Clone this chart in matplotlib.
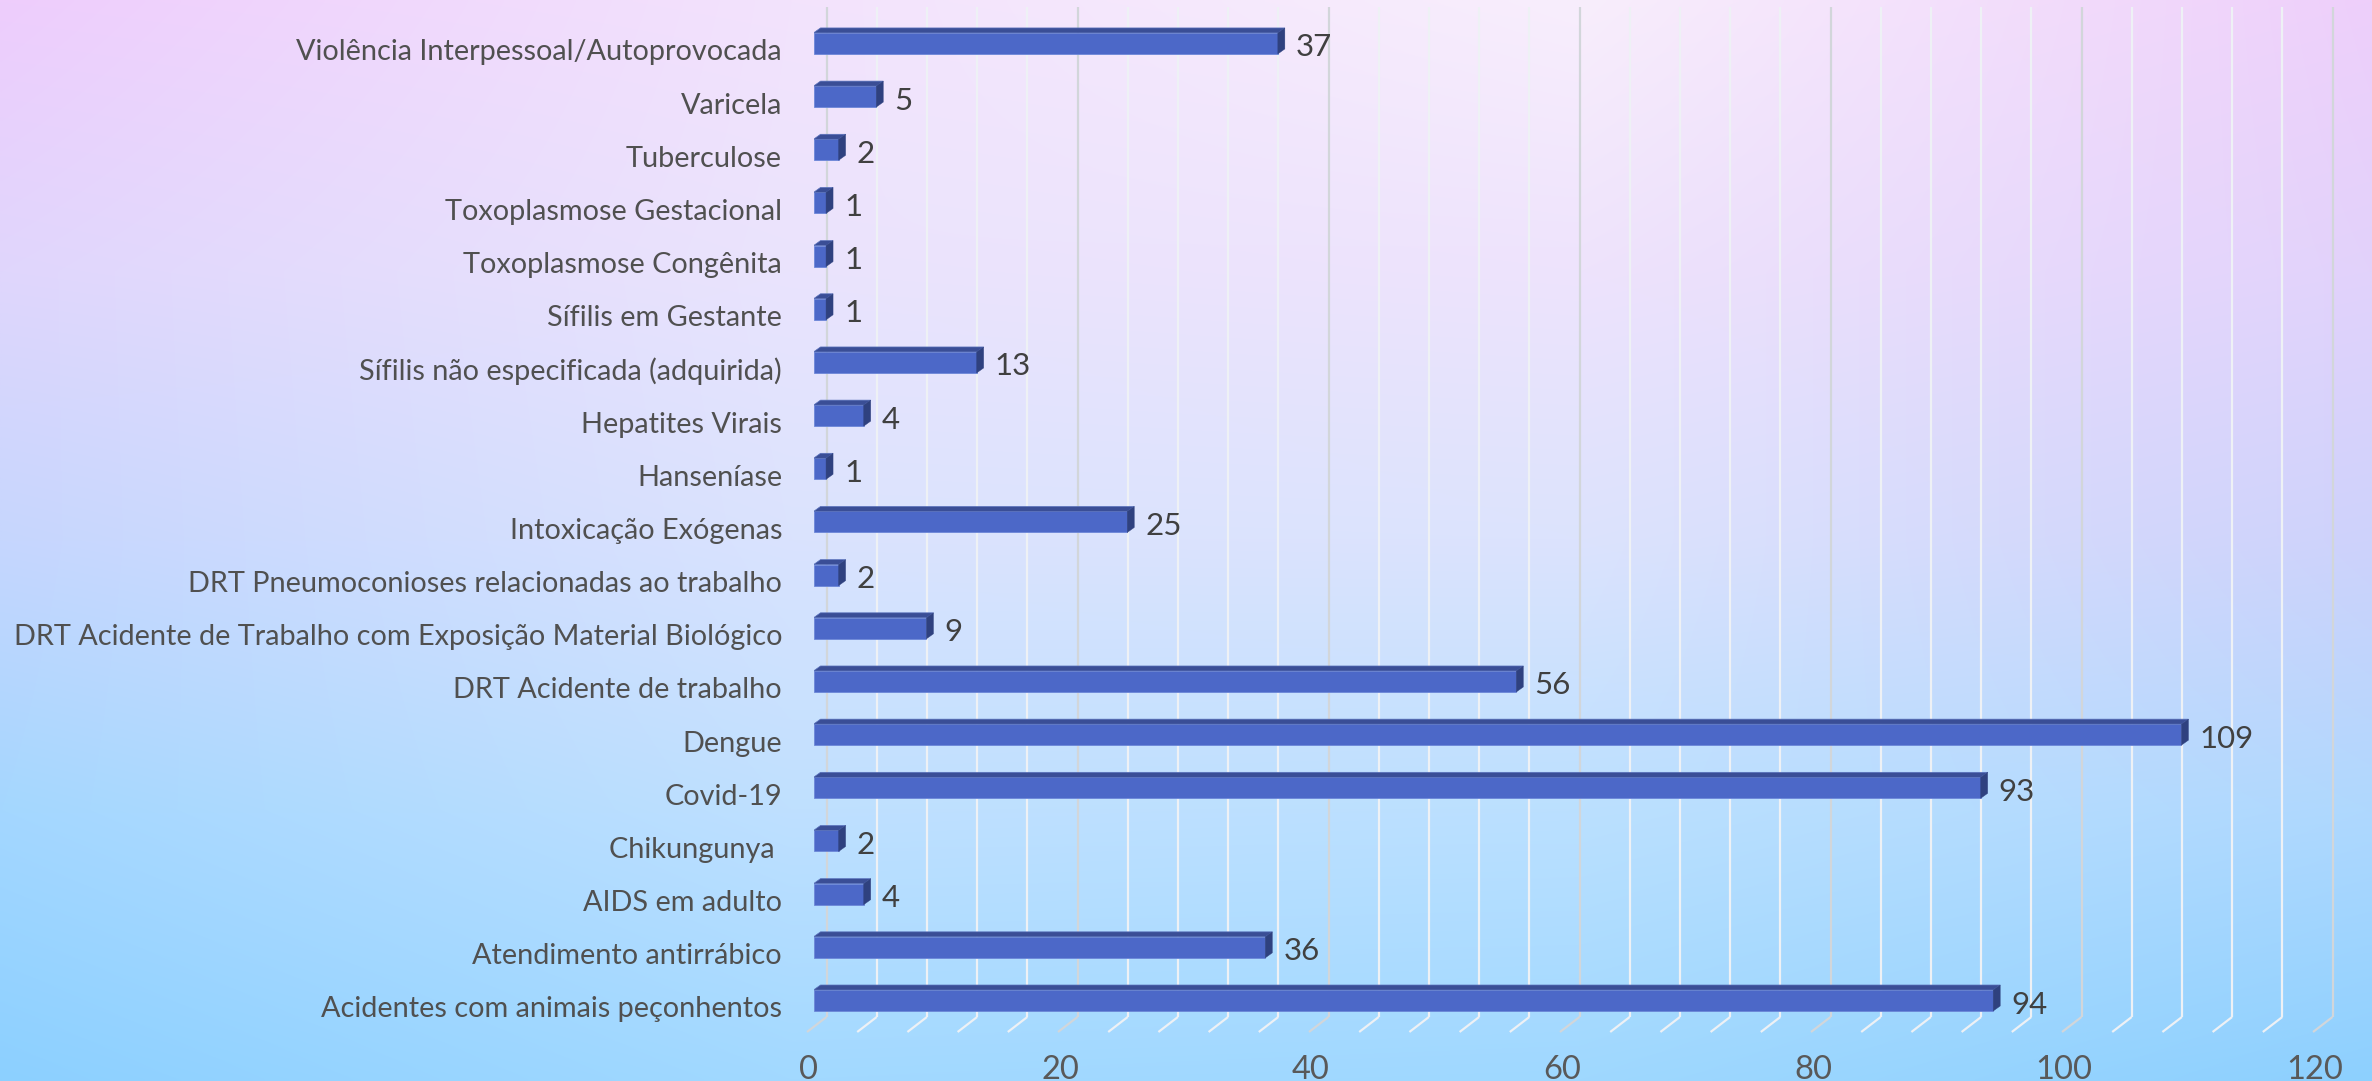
import numpy as np
import matplotlib
matplotlib.use("Agg")
import matplotlib.pyplot as plt
from matplotlib.patches import Polygon
from matplotlib.transforms import ScaledTranslation

categories = ["Violência Interpessoal/Autoprovocada", "Varicela", "Tuberculose",
              "Toxoplasmose Gestacional", "Toxoplasmose Congênita", "Sífilis em Gestante",
              "Sífilis não especificada (adquirida)", "Hepatites Virais", "Hanseníase",
              "Intoxicação Exógenas", "DRT Pneumoconioses relacionadas ao trabalho",
              "DRT Acidente de Trabalho com Exposição Material Biológico",
              "DRT Acidente de trabalho", "Dengue", "Covid-19", "Chikungunya ",
              "AIDS em adulto", "Atendimento antirrábico", "Acidentes com animais peçonhentos"]
values = [37, 5, 2, 1, 1, 1, 13, 4, 1, 25, 2, 9, 56, 109, 93, 2, 4, 36, 94]
x_major = [0, 20, 40, 60, 80, 100, 120]

W, H = 2372, 1081
DPI = 100
PX = 72 / DPI
plt.rcParams["font.family"] = ["Lato", "DejaVu Sans"]
fig = plt.figure(figsize=(W / DPI, H / DPI), dpi=DPI)

# background gradient, from colours sampled on a coarse grid
bg_hex = [["EECDFC", "F3E3FC", "F8EEFC", "EECFFA"],
          ["E0D6FC", "EAE4FD", "EEE3FC", "E2D2FB"],
          ["C6D6FE", "DAE3FE", "DCE3FD", "CED2FB"],
          ["A4D7FF", "BFE0FF", "BBE0FF", "AFD8FE"],
          ["8CD0FF", "A2D9FF", "9FD8FF", "8DD0FE"]]
grid = np.array([[[int(h[i:i + 2], 16) / 255 for i in (0, 2, 4)] for h in row] for row in bg_hex])
gx_pos = np.linspace(0, 1, grid.shape[1])
gy_pos = np.linspace(0, 1, grid.shape[0])
xs, ys = np.linspace(0, 1, 600), np.linspace(0, 1, 300)
rows = np.stack([[np.interp(xs, gx_pos, grid[r, :, c]) for c in range(3)] for r in range(grid.shape[0])])
img = np.stack([[np.interp(ys, gy_pos, rows[:, c, i]) for i in range(xs.size)] for c in range(3)])
img = img.transpose(2, 1, 0)
bg = fig.add_axes([0, 0, 1, 1], zorder=0)
bg.axis("off")
bg.imshow(img, aspect="auto", extent=(0, 1, 1, 0), interpolation="bilinear")

# plot axes: front plane of the bars
L, PER = 813.5, 12.55
TOP, BOT = 7.0, 1032.0
Y0, DY = 1000.5, 53.17          # first category centre (bottom), spacing in px
ax = fig.add_axes([L / W, 1 - BOT / H, 120 * PER / W, (BOT - TOP) / H], zorder=1)
ax.patch.set_alpha(0)
ax.set_xlim(0, 120)
ax.set_ylim((Y0 - BOT) / DY, (Y0 - TOP) / DY)
ax.spines[:].set_visible(False)
ax.tick_params(length=0)

n = len(categories)
pos = np.arange(n)[::-1]


def off(dx, dy, base=None):
    return (base or ax.transData) + ScaledTranslation(dx / DPI, -dy / DPI, fig.dpi_scale_trans)


# gridlines with floor feet: back wall line, then a slanted foot toward the viewer
gx = ax.get_xaxis_transform()
floor = 15 / (BOT - TOP)
for v in range(0, 121, 4):
    col = "#D2D6DA" if v % 20 == 0 else "#EEF1F5"
    ax.plot([v, v], [1, floor], transform=off(13, 0, gx), color=col, lw=2.2 * PX, zorder=1,
            solid_capstyle="butt", clip_on=False)
    inv = fig.transFigure.inverted()
    a = inv.transform(off(13, 0, gx).transform((v, floor)))
    b = inv.transform(off(-6.5, 0, gx).transform((v, 0)))
    ax.plot([a[0], b[0]], [a[1], b[1]], transform=fig.transFigure, color=col,
            lw=2.2 * PX, zorder=1, clip_on=False, solid_capstyle="butt")

# bars: front face through barh, top and side faces offset from it
BH = 21.0 / DY
DX3, DY3 = 7.0, 5.0
FRONT, TOPC, SIDE = "#4C68C8", "#3A4E96", "#2F417F"
ax.barh(pos, values, height=BH, color=FRONT, edgecolor="#6C87D8", linewidth=0.6, zorder=3)
for y, v in zip(pos, values):
    t = ax.transData

    def P(xv, yv, d=0):
        return t.transform((xv, yv)) + np.array([d * DX3, d * DY3])

    y1, y0 = y + BH / 2, y - BH / 2
    top = [P(0, y1), P(v, y1), P(v, y1, 1), P(0, y1, 1)]
    side = [P(v, y0), P(v, y0, 1), P(v, y1, 1), P(v, y1)]
    ax.add_patch(Polygon(top, closed=True, transform=None, fc=TOPC, ec="#5A72BC", lw=0.5, zorder=3))
    ax.add_patch(Polygon(side, closed=True, transform=None, fc=SIDE, ec=SIDE, lw=0.3, zorder=3))
    ax.text(v, y, str(v), transform=off(18, 4), ha="left", va="center", fontsize=22.5,
            color="#404040", zorder=4)

# category labels
ax.set_yticks(pos, labels=[""] * n)
for y, c in zip(pos, categories):
    ax.text(0, y, c, transform=off(-31.5, 9), ha="right", va="center", fontsize=20.8,
            color="#505050", zorder=4)

# x tick labels
ax.set_xticks(x_major, labels=[""] * len(x_major))
for v in x_major:
    ax.text(v, 0, str(v), transform=off(-4.5, 38, gx), ha="center", va="center", fontsize=23.5,
            color="#595959", zorder=4, clip_on=False)

fig.savefig("out.png", dpi=DPI)
